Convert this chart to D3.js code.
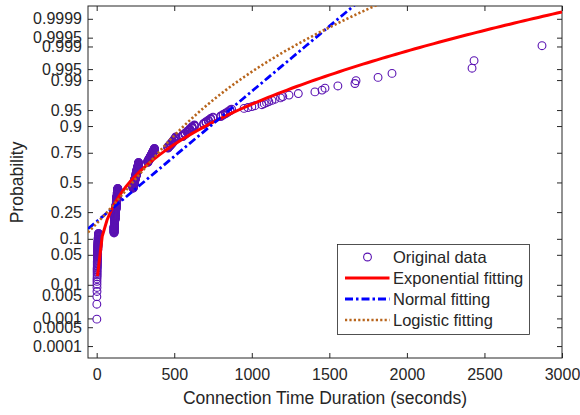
<!DOCTYPE html>
<html>
<head>
<meta charset="utf-8">
<script src="https://cdn.jsdelivr.net/npm/d3@7"></script>
<style>
  body { margin: 0; background: #fff; }
  text { font-family: "Liberation Sans", Arial, Helvetica, sans-serif; fill: #262626; }
</style>
</head>
<body>
<div id="chart"></div>
<script>
// observed connection durations (seconds) and how many times each occurs
const durations = [1, 2, 3, 4, 5, 6, 7, 8, 9, 10, 11, 12,
    112, 115, 118, 121, 124, 127, 130, 133, 136,
    235, 240, 245, 250, 255, 260, 265, 270,
    330, 336, 342, 348, 354, 360, 366, 372,
    460, 470, 480, 490, 500, 510,
    555, 570, 585, 600, 615, 630,
    690, 705, 720, 735, 750,
    800, 815, 830, 845, 860, 870,
    950, 975, 1000, 1020, 1065, 1080, 1095, 1110, 1130, 1150, 1185, 1200, 1240, 1300,
    1407, 1453, 1472, 1555, 1665, 1672, 1814, 1904, 2420, 2433, 2871];
const counts = [3, 5, 6, 6, 6, 6, 6, 6, 6, 6, 5, 5,
    19, 19, 19, 19, 19, 19, 19, 19, 19,
    15, 15, 15, 15, 15, 15, 15, 16,
    7, 7, 7, 7, 7, 7, 7, 7,
    6, 6, 6, 6, 6, 7,
    5, 5, 5, 5, 5, 4,
    3, 3, 3, 3, 2,
    2, 2, 2, 2, 2, 1,
    1, 1, 1, 1, 1, 1, 1, 1, 1, 1, 1, 1, 1, 1,
    1, 1, 1, 1, 1, 1, 1, 1, 1, 1, 1];

// fitted distribution parameters
const expMu = 305;
const normMu = 300, normSigma = 338;
const logisMu = 232, logisS = 150;

const probTicks = [0.0001, 0.0005, 0.001, 0.005, 0.01, 0.05, 0.1, 0.25, 0.5, 0.75, 0.9, 0.95, 0.99, 0.995, 0.999, 0.9995, 0.9999];
const probLabels = ["0.0001", "0.0005", "0.001", "0.005", "0.01", "0.05", "0.1", "0.25", "0.5", "0.75", "0.9", "0.95", "0.99", "0.995", "0.999", "0.9995", "0.9999"];
const xTicks = [0, 500, 1000, 1500, 2000, 2500, 3000];
const legendNames = ["Original data", "Exponential fitting", "Normal fitting", "Logistic fitting"];

const width = 580, height = 415;
const margin = {top: 6, right: 18, bottom: 57, left: 88};
const dataColor = "#5a12b2";
const axisColor = "#262626";

// inverse of the standard normal cdf (Acklam)
function probit(p) {
    const a = [-3.969683028665376e+01, 2.209460984245205e+02, -2.759285104469687e+02, 1.383577518672690e+02, -3.066479806614716e+01, 2.506628277459239e+00];
    const b = [-5.447609879822406e+01, 1.615858368580409e+02, -1.556989798598866e+02, 6.680131188771972e+01, -1.328068155288572e+01];
    const c = [-7.784894002430293e-03, -3.223964580411365e-01, -2.400758277161838e+00, -2.549732539343734e+00, 4.374664141464968e+00, 2.938163982698783e+00];
    const d = [7.784695709041462e-03, 3.224671290700398e-01, 2.445134137142996e+00, 3.754408661907416e+00];
    const pl = 0.02425;
    let q, r;
    if (p < pl) {
        q = Math.sqrt(-2 * Math.log(p));
        return (((((c[0] * q + c[1]) * q + c[2]) * q + c[3]) * q + c[4]) * q + c[5]) / ((((d[0] * q + d[1]) * q + d[2]) * q + d[3]) * q + 1);
    }
    if (p <= 1 - pl) {
        q = p - 0.5; r = q * q;
        return (((((a[0] * r + a[1]) * r + a[2]) * r + a[3]) * r + a[4]) * r + a[5]) * q / (((((b[0] * r + b[1]) * r + b[2]) * r + b[3]) * r + b[4]) * r + 1);
    }
    q = Math.sqrt(-2 * Math.log(1 - p));
    return -(((((c[0] * q + c[1]) * q + c[2]) * q + c[3]) * q + c[4]) * q + c[5]) / ((((d[0] * q + d[1]) * q + d[2]) * q + d[3]) * q + 1);
}

// expand to the sorted sample, plotting positions (i - 0.5) / n
let sample = [];
durations.forEach((v, i) => { for (let k = 0; k < counts[i]; k++) sample.push(v); });
const n = sample.length;
const points = sample.map((v, i) => ({x: v, z: probit((i + 0.5) / n)}));

const xScale = d3.scaleLinear().domain([-56, 3000]).range([margin.left, width - margin.right]);
const yScale = d3.scaleLinear().domain([-3.99, 4.01]).range([height - margin.bottom, margin.top]);

const svg = d3.select("#chart").append("svg")
    .attr("width", width)
    .attr("height", height)
    .attr("viewBox", [0, 0, width, height]);

svg.append("defs").append("clipPath").attr("id", "clip")
    .append("rect")
    .attr("x", margin.left).attr("y", margin.top)
    .attr("width", width - margin.left - margin.right)
    .attr("height", height - margin.top - margin.bottom);

// axes (ticks point inward, like matlab)
const zTicks = probTicks.map(probit);
const styleAxis = g => {
    g.select(".domain").remove();
    g.selectAll(".tick line").attr("stroke", axisColor);
    g.selectAll(".tick text").attr("font-size", 16).attr("fill", axisColor);
};

svg.append("g")
    .attr("transform", `translate(0,${height - margin.bottom})`)
    .call(d3.axisBottom(xScale).tickValues(xTicks).tickSizeInner(-5).tickSizeOuter(0).tickPadding(11).tickFormat(d3.format("d")))
    .call(styleAxis);
svg.append("g")
    .attr("transform", `translate(0,${margin.top})`)
    .call(d3.axisTop(xScale).tickValues(xTicks).tickSizeInner(-5).tickSizeOuter(0).tickFormat(""))
    .call(styleAxis);
svg.append("g")
    .attr("transform", `translate(${margin.left},0)`)
    .call(d3.axisLeft(yScale).tickValues(zTicks).tickSizeInner(-5).tickSizeOuter(0).tickPadding(6)
        .tickFormat((d, i) => probLabels[i]))
    .call(styleAxis);
svg.append("g")
    .attr("transform", `translate(${width - margin.right},0)`)
    .call(d3.axisRight(yScale).tickValues(zTicks).tickSizeInner(-5).tickSizeOuter(0).tickFormat(""))
    .call(styleAxis);

svg.append("rect")
    .attr("x", margin.left).attr("y", margin.top)
    .attr("width", width - margin.left - margin.right)
    .attr("height", height - margin.top - margin.bottom)
    .attr("fill", "none")
    .attr("stroke", axisColor)
    .attr("stroke-width", 1);

svg.append("text")
    .attr("x", (margin.left + width - margin.right) / 2)
    .attr("y", 404)
    .attr("text-anchor", "middle")
    .attr("font-size", 17.5)
    .text("Connection Time Duration (seconds)");

svg.append("text")
    .attr("transform", `translate(23,${yScale(0)}) rotate(-90)`)
    .attr("text-anchor", "middle")
    .attr("font-size", 17.5)
    .text("Probability");

// data + fitted curves
const plotG = svg.append("g").attr("clip-path", "url(#clip)");

plotG.append("g").selectAll("circle")
    .data(points)
    .join("circle")
    .attr("cx", d => xScale(d.x))
    .attr("cy", d => yScale(d.z))
    .attr("r", 3.9)
    .attr("fill", "none")
    .attr("stroke", dataColor)
    .attr("stroke-width", 1.1);

const xs = d3.range(101).map(i => -56 + i * (3056 / 100));
const line = d3.line().x(d => xScale(d[0])).y(d => yScale(d[1]));

const expCurve = xs.filter(x => x > 0).map(x => [x, probit(1 - Math.exp(-x / expMu))]);
const normCurve = xs.map(x => [x, (x - normMu) / normSigma]);
const logisCurve = xs.map(x => [x, probit(1 / (1 + Math.exp(-(x - logisMu) / logisS)))]);

const fits = [
    {data: expCurve, color: "#ff0000", dash: null, w: 3},
    {data: normCurve, color: "#0000ff", dash: "8,3,2.5,3", w: 2.8},
    {data: logisCurve, color: "#b8651c", dash: "2.2,2.2", w: 2.6}
];

fits.forEach(f => {
    plotG.append("path")
        .datum(f.data)
        .attr("d", line)
        .attr("fill", "none")
        .attr("stroke", f.color)
        .attr("stroke-width", f.w)
        .attr("stroke-dasharray", f.dash);
});

// legend
const lg = svg.append("g").attr("transform", "translate(337.5,244.5)");
lg.append("rect")
    .attr("width", 192).attr("height", 90)
    .attr("fill", "#fff")
    .attr("stroke", axisColor)
    .attr("stroke-width", 0.8);

legendNames.forEach((name, i) => {
    const y = 12.5 + i * 21;
    if (i === 0) {
        lg.append("circle")
            .attr("cx", 30).attr("cy", y).attr("r", 3.9)
            .attr("fill", "none").attr("stroke", dataColor).attr("stroke-width", 1.1);
    } else {
        const f = fits[i - 1];
        lg.append("line")
            .attr("x1", 7.5).attr("x2", 52).attr("y1", y).attr("y2", y)
            .attr("stroke", f.color)
            .attr("stroke-width", f.w)
            .attr("stroke-dasharray", f.dash);
    }
    lg.append("text")
        .attr("x", 55.5).attr("y", y)
        .attr("dy", "0.35em")
        .attr("font-size", 16.5)
        .text(name);
});
</script>
</body>
</html>
